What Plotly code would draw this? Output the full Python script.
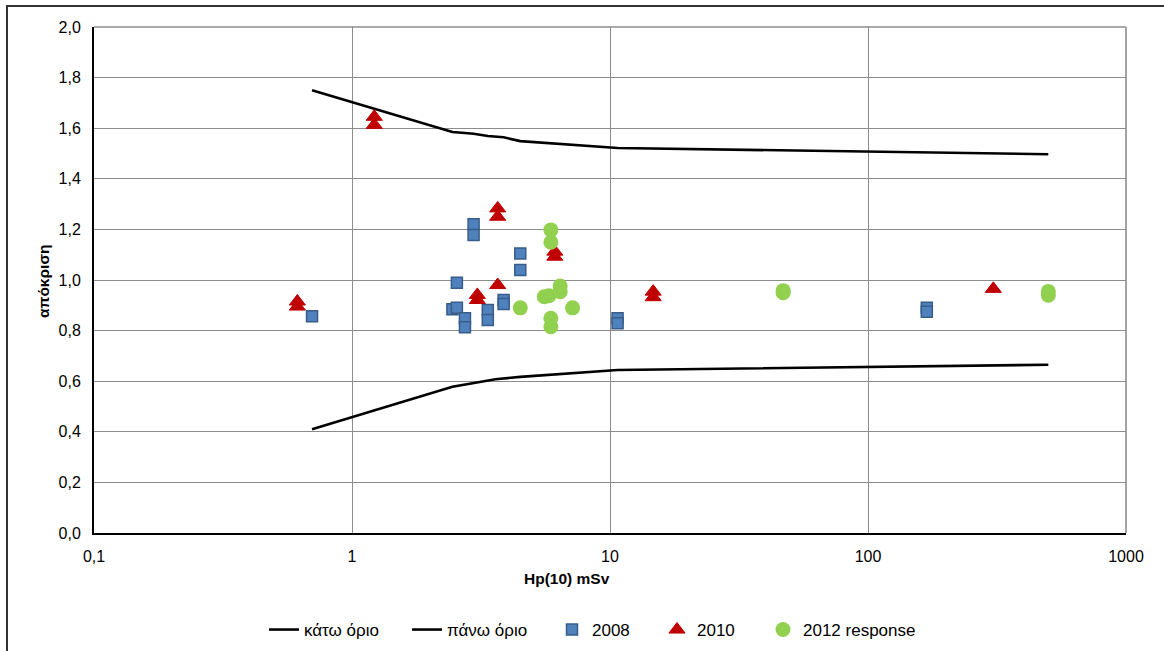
import plotly.graph_objects as go

# ---- data ----
lower_x = [0.7, 2.45, 3.6, 4.49, 10.7, 500]
lower_y = [0.41, 0.578, 0.608, 0.617, 0.644, 0.665]

upper_x = [0.7, 2.45, 2.74, 2.96, 3.36, 3.87, 4.49, 10.7, 500]
upper_y = [1.75, 1.585, 1.581, 1.578, 1.569, 1.564, 1.549, 1.522, 1.497]

x_2008 = [0.70, 2.45, 2.55, 2.55, 2.74, 2.74, 2.96, 2.96, 3.36, 3.36, 3.87, 3.87, 4.49, 4.49, 10.7, 10.7, 169, 169]
y_2008 = [0.857, 0.884, 0.890, 0.989, 0.849, 0.813, 1.220, 1.178, 0.881, 0.842, 0.921, 0.905, 1.105, 1.040, 0.849, 0.829, 0.890, 0.875]

x_2010 = [0.614, 0.614, 1.22, 1.22, 3.06, 3.06, 3.67, 3.67, 3.67, 6.11, 6.11, 14.7, 14.7, 306]
y_2010 = [0.915, 0.895, 1.645, 1.613, 0.941, 0.921, 1.283, 1.250, 0.980, 1.112, 1.092, 0.954, 0.932, 0.965]

x_2012 = [4.49, 5.9, 5.9, 5.56, 5.8, 6.41, 6.41, 7.16, 5.9, 5.9, 46.9, 46.9, 500, 500]
y_2012 = [0.890, 1.198, 1.149, 0.934, 0.938, 0.976, 0.954, 0.890, 0.849, 0.815, 0.958, 0.950, 0.955, 0.940]

x_tickvals = [0.1, 1, 10, 100, 1000]
x_ticktext = ["0,1", "1", "10", "100", "1000"]
y_tickvals = [0.0, 0.2, 0.4, 0.6, 0.8, 1.0, 1.2, 1.4, 1.6, 1.8, 2.0]

names = ["κάτω όριο", "πάνω όριο", "2008", "2010", "2012 response"]

FONT = "Liberation Sans, Arial, sans-serif"

fig = go.Figure()
fig.add_trace(go.Scatter(x=lower_x, y=lower_y, mode="lines", name=names[0],
                         line=dict(color="black", width=2.6), legend="legend"))
fig.add_trace(go.Scatter(x=upper_x, y=upper_y, mode="lines", name=names[1],
                         line=dict(color="black", width=2.6), legend="legend"))
fig.add_trace(go.Scatter(x=x_2008, y=y_2008, mode="markers", name=names[2],
                         marker=dict(symbol="square", size=11, color="#4F81BD",
                                     line=dict(color="#385D8A", width=1.5)),
                         legend="legend2"))
fig.add_trace(go.Scatter(x=x_2010, y=y_2010, mode="markers", name=names[3],
                         marker=dict(symbol="triangle-up", size=14, color="#C00000",
                                     line=dict(color="#C00000", width=1)),
                         legend="legend2"))
fig.add_trace(go.Scatter(x=x_2012, y=y_2012, mode="markers", name=names[4],
                         marker=dict(symbol="circle", size=15, color="#92D050",
                                     line=dict(width=0)),
                         legend="legend3"))

W, H = 1164, 651
L, R, T, B = 94, 38, 27, 118
pw, ph = W - L - R, H - T - B

def px2x(px):
    return (px - L) / pw

def py2y(py):
    return (H - B - py) / ph

grid = "#8c8c8c"
LEG_Y = py2y(630)
leg_font = dict(family=FONT, size=17)
fig.update_layout(
    width=W, height=H,
    margin=dict(l=L, r=R, t=T, b=B, pad=0, autoexpand=False),
    paper_bgcolor="white", plot_bgcolor="white",
    font=dict(family=FONT, size=16, color="black"),
    showlegend=True,
    legend=dict(orientation="h", x=px2x(264), xanchor="left", y=LEG_Y, yanchor="middle",
                font=leg_font, bgcolor="rgba(0,0,0,0)",
                entrywidth=98, entrywidthmode="pixels"),
    legend2=dict(orientation="h", x=px2x(552), xanchor="left", y=LEG_Y, yanchor="middle",
                 font=leg_font, bgcolor="rgba(0,0,0,0)",
                 entrywidth=60, entrywidthmode="pixels", itemsizing="trace"),
    legend3=dict(orientation="h", x=px2x(763), xanchor="left", y=LEG_Y, yanchor="middle",
                 font=leg_font, bgcolor="rgba(0,0,0,0)", itemsizing="trace"),
    xaxis=dict(type="log", range=[-1, 3], tickvals=x_tickvals, ticktext=x_ticktext,
               showgrid=True, gridcolor=grid, gridwidth=1.4,
               showline=True, linecolor="black", linewidth=2, mirror=False,
               ticks="", ticklabelstandoff=8, zeroline=False,
               tickfont=dict(family=FONT, size=16)),
    yaxis=dict(range=[0, 2], tickvals=y_tickvals, tickformat=".1f",
               showgrid=True, gridcolor=grid, gridwidth=1.4,
               showline=True, linecolor="black", linewidth=2,
               ticks="", ticklabelstandoff=8, zeroline=False,
               tickfont=dict(family=FONT, size=16)),
    separators=", ",
)

# right edge at 1000 and top edge at 2.0 (gray, like gridlines)
fig.add_shape(type="line", xref="paper", yref="paper", x0=1, x1=1, y0=0, y1=1,
              line=dict(color=grid, width=1.6), layer="below")
fig.add_shape(type="line", xref="paper", yref="paper", x0=0, x1=1, y0=1, y1=1,
              line=dict(color=grid, width=1.6), layer="below")
# outer chart frame
fig.add_shape(type="rect", xref="paper", yref="paper",
              x0=px2x(7), x1=px2x(1175), y0=py2y(6), y1=py2y(665),
              line=dict(color="#333333", width=2), fillcolor="rgba(0,0,0,0)", layer="below")

fig.add_annotation(text="<b>Hp(10) mSv</b>", xref="paper", yref="paper",
                   x=px2x(567), y=py2y(578), xanchor="center", yanchor="middle",
                   showarrow=False, font=dict(family=FONT, size=15.5))
fig.add_annotation(text="<b>απόκριση</b>", xref="paper", yref="paper",
                   x=px2x(43), y=py2y(282), xanchor="center", yanchor="middle",
                   textangle=-90, showarrow=False, font=dict(family=FONT, size=15.5))

fig.write_html("out.html")
